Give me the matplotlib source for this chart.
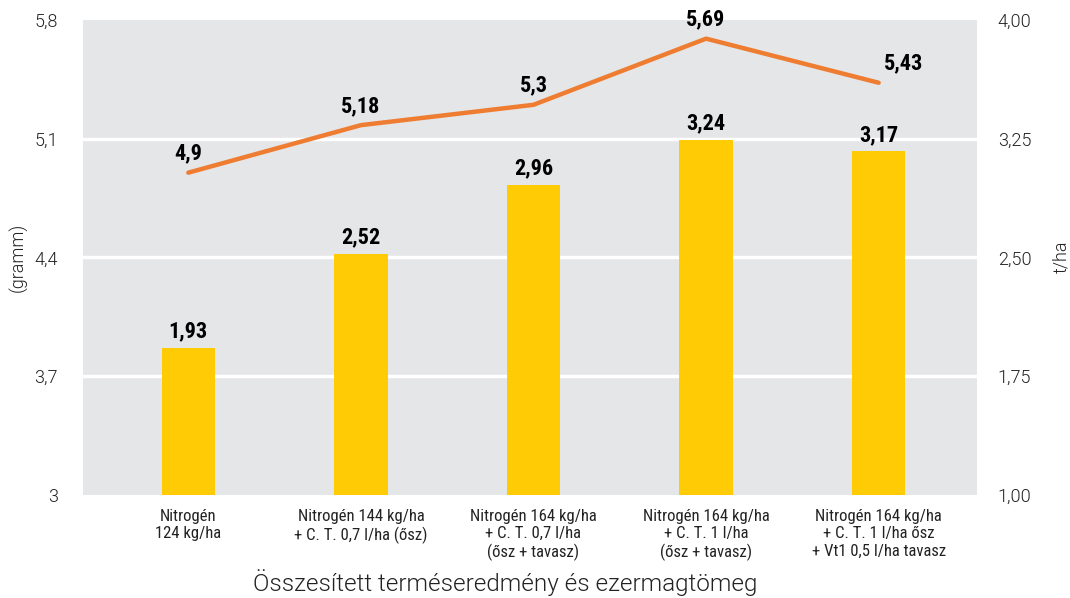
import matplotlib.pyplot as plt
import numpy as np
from matplotlib.ticker import FuncFormatter

categories = [
    "Nitrogén\n124 kg/ha",
    "Nitrogén 144 kg/ha\n+ C. T. 0,7 l/ha (ősz)",
    "Nitrogén 164 kg/ha\n+ C. T. 0,7 l/ha\n(ősz + tavasz)",
    "Nitrogén 164 kg/ha\n+ C. T. 1 l/ha\n(ősz + tavasz)",
    "Nitrogén 164 kg/ha\n+ C. T. 1 l/ha ősz\n+ Vt1 0,5 l/ha tavasz",
]
yield_tha = [1.93, 2.52, 2.96, 3.24, 3.17]
thousand_seed_g = [4.9, 5.18, 5.3, 5.69, 5.43]
left_ticks = [3, 3.7, 4.4, 5.1, 5.8]
right_ticks = [1.00, 1.75, 2.50, 3.25, 4.00]

BG = "#e5e6e8"
BAR = "#ffcb05"
LINE = "#ee7d31"
TICK = "#222222"
COND = ["Roboto Condensed", "DejaVu Sans"]
LIGHT = ["Roboto", "DejaVu Sans"]


def comma(v, decimals):
    return f"{v:.{decimals}f}".replace(".", ",")


fig = plt.figure(figsize=(10.7, 5.98), dpi=100)
ax_r = fig.add_axes([0.0776, 0.1722, 0.8355, 0.7944])
ax_l = ax_r.twinx()

x = np.arange(len(categories))

# bars on the t/ha scale (right side)
ax_r.set_facecolor(BG)
ax_r.set_ylim(1.0, 4.0)
ax_r.set_xlim(-0.61, 4.57)
ax_r.set_yticks(right_ticks)
for t in right_ticks[1:-1]:
    ax_r.axhline(t, color="white", lw=2.5, zorder=1)
ax_r.bar(x, yield_tha, width=0.31, color=BAR, zorder=2)
for xi, v in zip(x, yield_tha):
    ax_r.annotate(comma(v, 2), (xi, v), xytext=(0, 4), textcoords="offset points",
                  ha="center", va="bottom", fontsize=16, fontweight="bold",
                  family=COND, color="black")

# line on the gramm scale (left side)
ax_l.set_ylim(3.0, 5.8)
ax_l.set_yticks(left_ticks)
ax_l.plot(x, thousand_seed_g, color=LINE, lw=3.2, solid_capstyle="round",
          solid_joinstyle="round", zorder=3)
for i, (xi, v) in enumerate(zip(x, thousand_seed_g)):
    dx = 18 if i == len(x) - 1 else 0
    ax_l.annotate(comma(v, 2).rstrip("0").rstrip(","), (xi, v), xytext=(dx, 6),
                  textcoords="offset points", ha="center", va="bottom",
                  fontsize=16, fontweight="bold", family=COND, color="black")

# the gramm axis sits on the left, t/ha on the right
ax_l.yaxis.tick_left()
ax_r.yaxis.tick_right()

ax_l.yaxis.set_major_formatter(FuncFormatter(lambda v, p: comma(v, 1) if v != 3 else "3"))
ax_r.yaxis.set_major_formatter(FuncFormatter(lambda v, p: comma(v, 2)))

for a in (ax_l, ax_r):
    for s in a.spines.values():
        s.set_visible(False)
    a.tick_params(length=0, colors=TICK, labelsize=13)
    for lab in a.get_yticklabels():
        lab.set_family(LIGHT)
        lab.set_fontweight(300)
ax_l.tick_params(axis="y", pad=18)
ax_r.tick_params(axis="y", pad=15)

ax_r.set_xticks(x)
ax_r.set_xticklabels(categories, fontsize=12, family=COND, color=TICK,
                     linespacing=1.2)
ax_r.tick_params(axis="x", pad=10)

fig.text(0.017, 0.57, "(gramm)", rotation=90, ha="center", va="center",
         fontsize=13, family=LIGHT, fontweight=300, color=TICK)
fig.text(0.992, 0.57, "t/ha", rotation=90, ha="center", va="center",
         fontsize=13, family=LIGHT, fontweight=300, color=TICK)
fig.text(0.472, 0.025, "Összesített terméseredmény és ezermagtömeg",
         ha="center", va="center", fontsize=17.5, family=LIGHT,
         fontweight=300, color=TICK)

fig.savefig("out.png", dpi=100)
